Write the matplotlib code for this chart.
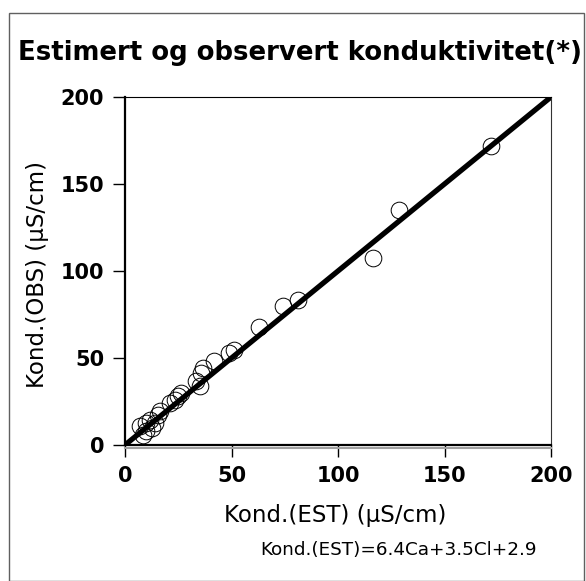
import matplotlib
matplotlib.use("Agg")
import matplotlib.pyplot as plt
from matplotlib.patches import Rectangle

# estimated vs observed conductivity (µS/cm)
est = [172, 128.5, 116.5, 81.3, 74.4, 63.1, 51.4, 49, 42, 36.6, 35.5, 35, 33.5,
       26.5, 24.8, 23.4, 21, 16.4, 15.4, 11.7, 10, 12.5, 10, 8.6, 14, 7]
obs = [172, 134.9, 107.2, 83.1, 80, 67.6, 54.6, 52.7, 48, 44, 41.3, 33.8, 36.7,
       29.8, 28, 26, 24, 19.5, 17.4, 14.5, 12.6, 9.7, 8, 5.9, 12.6, 10.9]

fit_x = [0, 200]
fit_y = [0, 200]

ticks = [0, 50, 100, 150, 200]

W, H = 586, 581
fig = plt.figure(figsize=(W / 100, H / 100), dpi=100)
fig.patches.append(Rectangle((9 / W, 0.5 / H), 575 / W, (H - 13.5) / H,
                             transform=fig.transFigure, fill=False,
                             edgecolor="#606060", linewidth=1.0))

ax = fig.add_axes([125 / W, 1 - 445 / H, 426 / W, 348 / H])

ax.plot(est, obs, "o", mfc="none", mec="black", ms=12, mew=0.7, zorder=3)
ax.plot(fit_x, fit_y, "-", color="black", lw=3.8, zorder=4, solid_capstyle="round")

ax.set_xlim(0, 200)
ax.set_ylim(0, 200)
ax.set_xticks(ticks)
ax.set_yticks(ticks)
ax.tick_params(direction="out", length=8.5, width=1, labelsize=15, pad=6.5)
for lab in ax.get_xticklabels() + ax.get_yticklabels():
    lab.set_fontweight("bold")

ax.spines["left"].set_linewidth(1.6)
ax.spines["bottom"].set_linewidth(1.6)
ax.spines["top"].set_linewidth(0.8)
ax.spines["right"].set_linewidth(0.8)
ax.spines["right"].set_color("#333333")
# grey shadow line under the x axis
ax.plot([0, 1], [-0.0086, -0.0086], transform=ax.transAxes, color="#a0a0a0",
        lw=1.5, clip_on=False)

ax.set_xlabel("Kond.(EST) (µS/cm)", fontsize=16.5, va="baseline")
ax.xaxis.set_label_coords(0.493, (445 - 522) / 348)
ax.set_ylabel("Kond.(OBS) (µS/cm)", fontsize=16.5)
ax.yaxis.set_label_coords((49 - 125) / 426, 0.491)

fig.text(18 / W, 1 - 60 / H, "Estimert og observert konduktivitet(*)",
         fontsize=18.7, fontweight="bold", va="baseline", ha="left")
fig.text(398 / W, 1 - 555 / H, "Kond.(EST)=6.4Ca+3.5Cl+2.9",
         fontsize=13.2, va="baseline", ha="center")

fig.savefig("out.png", dpi=100)
